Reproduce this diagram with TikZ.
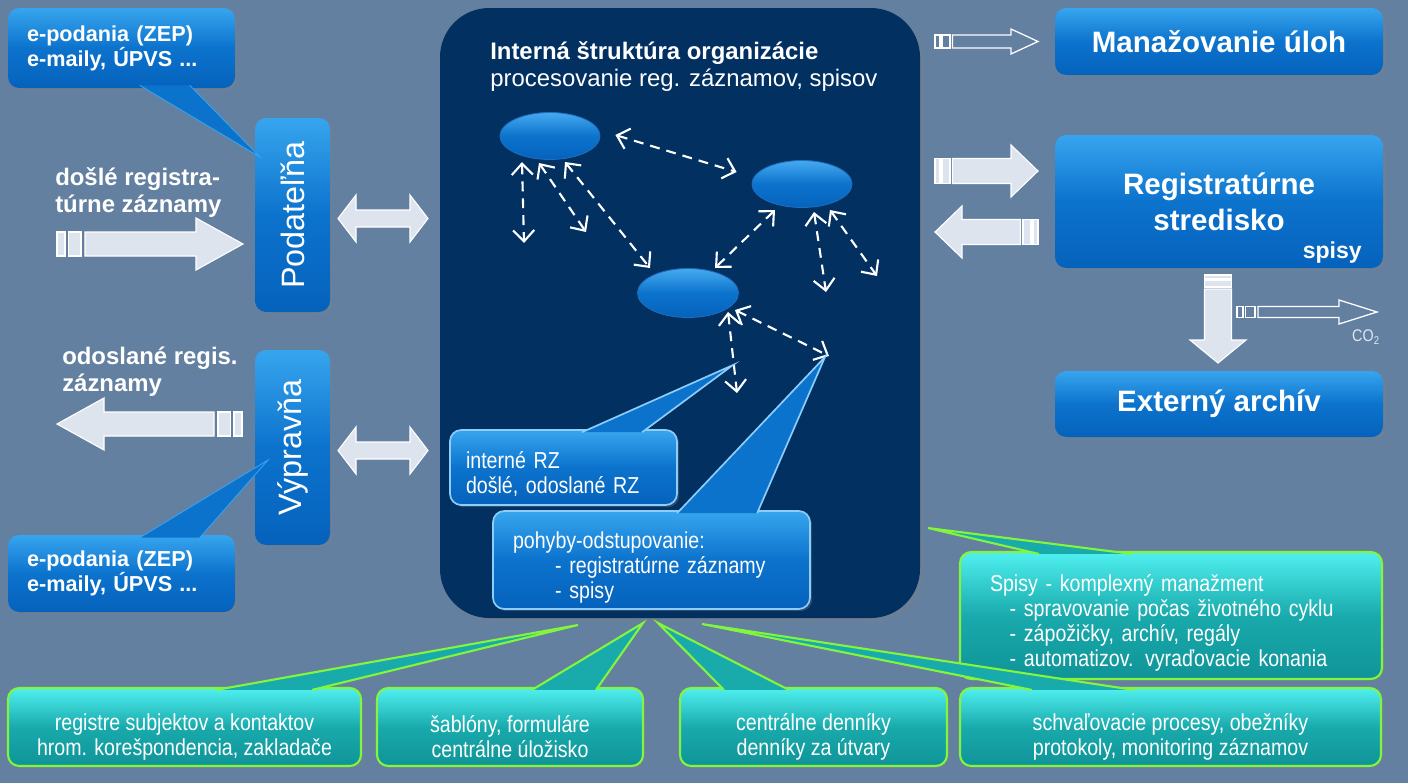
\documentclass[tikz,border=0pt]{standalone}
\usepackage{fontspec}
\setmainfont{Liberation Sans}
\newfontfamily\narrowsf[FakeStretch=0.85]{Liberation Sans}
\usepackage{graphicx}
\usetikzlibrary{positioning}
\usetikzlibrary{calc}
\usetikzlibrary{arrows.meta}
\usetikzlibrary{shadows}
\usetikzlibrary{shapes.geometric}

\definecolor{bgcol}{RGB}{99,128,161}
\definecolor{panelcol}{RGB}{2,48,97}
\definecolor{bluetop}{RGB}{55,165,238}
\definecolor{bluemid}{RGB}{12,115,205}
\definecolor{bluebot}{RGB}{5,98,188}
\definecolor{lightedge}{RGB}{140,205,250}
\definecolor{ovaltop}{RGB}{70,170,240}
\definecolor{ovaledge}{RGB}{30,110,190}
\definecolor{tealtop}{RGB}{80,240,240}
\definecolor{tealmid}{RGB}{25,170,172}
\definecolor{tealbot}{RGB}{15,148,152}
\definecolor{greenedge}{RGB}{130,245,60}
\definecolor{arrowfill}{RGB}{221,228,238}
\definecolor{co2col}{RGB}{225,230,240}

\newcommand{\pxu}{0.025cm}

\tikzset{
  pics/fatarr/.style n args={5}{code={
    \filldraw[arrbody] ({3.5*#5},-#3) -- ({#1-#2},-#3) -- ({#1-#2},-#4) -- (#1,0)
      -- ({#1-#2},#4) -- ({#1-#2},#3) -- ({3.5*#5},#3) -- cycle;
    \filldraw[arrbody] (0,-#3) rectangle (#5,#3);
    \filldraw[arrbody] ({1.4*#5},-#3) rectangle ({3*#5},#3);
  }},
  pics/dblarr/.style n args={4}{code={
    \filldraw[arrbody] (0,0) -- (#2,-#4) -- (#2,-#3) -- ({#1-#2},-#3) -- ({#1-#2},-#4) -- (#1,0)
      -- ({#1-#2},#4) -- ({#1-#2},#3) -- (#2,#3) -- (#2,#4) -- cycle;
  }}
}

\begin{document}
\begin{tikzpicture}[x=0.025cm, y=-0.025cm,
    panel/.style={rectangle, rounded corners=35pt, fill=panelcol, drop shadow={opacity=0.3}},
    bluebox/.style={rectangle, rounded corners=8pt, top color=bluetop, bottom color=bluebot, middle color=bluemid, text=white, inner sep=0pt, drop shadow={opacity=0.35, shadow xshift=1.5pt, shadow yshift=-1.5pt}},
    callin/.style={bluebox, draw=lightedge, line width=1.2pt, align=left, font={\narrowsf\fontsize{16.4}{17.8}\selectfont}},
    tealbox/.style={rectangle, rounded corners=8pt, top color=tealtop, bottom color=tealbot, middle color=tealmid, draw=greenedge, line width=1.5pt, text=white, inner sep=0pt, font={\narrowsf\fontsize{16.4}{17.8}\selectfont}, drop shadow={opacity=0.35, shadow xshift=1.5pt, shadow yshift=-1.5pt}},
    unitnode/.style={ellipse, top color=ovaltop, bottom color=bluebot, middle color=bluemid, draw=ovaledge, line width=0.6pt, minimum width=100*\pxu, minimum height=47*\pxu, inner sep=0pt},
    outtail/.style={fill=bluemid, draw=bluetop, line width=0.6pt},
    intail/.style={fill=bluemid, draw=lightedge, line width=1.2pt},
    tealtail/.style={fill=tealmid, draw=greenedge, line width=1.5pt},
    dasharr/.style={white, line width=1.5pt, dash pattern=on 7pt off 5pt, {Straight Barb[length=8pt,width=15pt]}-{Straight Barb[length=8pt,width=15pt]}},
    arrbody/.style={fill=arrowfill, draw=white, line width=0.8pt},
    lbl/.style={text=white, inner sep=0pt, align=left, font={\bfseries\fontsize{17}{19.2}\selectfont}},
  ]
  \path[use as bounding box, fill=bgcol] (0,0) rectangle (1408,783);

  %Left side
  \node[bluebox, minimum width=75*\pxu, minimum height=194*\pxu, font=\fontsize{23}{27}\selectfont] (podat) at (292.5,215) {\rotatebox{90}{Podateľňa}};
  \node[bluebox, minimum width=75*\pxu, minimum height=195*\pxu, font=\fontsize{23}{27}\selectfont] (vyprav) at (292.5,447.5) {\rotatebox{90}{Výpravňa}};

  \node[bluebox, text width=189*\pxu, inner xsep=19*\pxu, minimum height=80*\pxu, align=left, font=\bfseries\fontsize{15.4}{17.8}\selectfont] (cbtop) at (121.5,48) {e-podania (ZEP)\\e-maily, ÚPVS ...};
  \node[bluebox, text width=189*\pxu, inner xsep=19*\pxu, minimum height=77*\pxu, align=left, font=\bfseries\fontsize{15.4}{17.8}\selectfont] (cbbot) at (121.5,573.5) {e-podania (ZEP)\\e-maily, ÚPVS ...};
  \coordinate (tiptop) at (260,157);
  \coordinate (tipbot) at (268,460);
  \filldraw[outtail] ($(cbtop.south west)+(132,-3)$) -- (tiptop) -- ($(cbtop.south west)+(182,-3)$);
  \filldraw[outtail] ($(cbbot.north west)+(132,3)$) -- (tipbot) -- ($(cbbot.north west)+(192,3)$);

  \node[lbl, anchor=north west] (inlbl) at (55,167) {došlé registra-\\túrne záznamy};
  \node[lbl, anchor=north west] (outlbl) at (62,347) {odoslané regis.\\záznamy};
  \pic at (57,244) {fatarr={186}{47}{12}{26}{8}};
  \pic[rotate=180] at (242,424) {fatarr={185}{47}{12}{26}{8}};
  \pic at (338,218.5) {dblarr={90}{18}{8.5}{23.5}};
  \pic at (338,450.5) {dblarr={90}{18}{8.5}{23.5}};

  %Center
  \node[panel, minimum width=480*\pxu, minimum height=610*\pxu] (panel) at (680,313) {};
  \node[text=white, inner sep=0pt, anchor=north west, align=left, font=\fontsize{17}{19.2}\selectfont] (title) at (490,41) {\textbf{Interná štruktúra organizácie}\\procesovanie reg. záznamov, spisov};

  \node[unitnode] (org1) at (550,136) {};
  \node[unitnode] (org2) at (802,184) {};
  \node[unitnode, minimum width=101*\pxu, minimum height=49*\pxu] (org3) at (688,293) {};

  \coordinate (e1a) at (524,243);
  \coordinate (e1b) at (586,232);
  \coordinate (e2a) at (826,292);
  \coordinate (e2b) at (877,276);
  \coordinate (e3a) at (737,393);
  \coordinate (e3b) at (829,356);
  \draw[dasharr] ($(org1.east)+(15,-1)$) -- ($(org2.west)+(-15,-12)$);
  \draw[dasharr] ($(org1)+(-28,26)$) -- (e1a);
  \draw[dasharr] ($(org1)+(-11,27)$) -- (e1b);
  \draw[dasharr] ($(org1)+(15,26)$) -- ($(org3)+(-38,-25)$);
  \draw[dasharr] ($(org2)+(-27,26)$) -- ($(org3)+(27,-25)$);
  \draw[dasharr] ($(org2)+(12,28)$) -- (e2a);
  \draw[dasharr] ($(org2)+(28,26)$) -- (e2b);
  \draw[dasharr] ($(org3)+(40,19)$) -- (e3a);
  \draw[dasharr] ($(org3)+(47,17)$) -- (e3b);

  \node[callin, text width=195*\pxu, inner xsep=16*\pxu, minimum height=75*\pxu] (intrz) at (563.5,467.5) {\rule{0pt}{21pt}interné RZ\\došlé, odoslané RZ};
  \node[callin, text width=277*\pxu, inner xsep=20*\pxu, minimum height=98*\pxu] (pohyb) at (651.5,560) {\rule{0pt}{22pt}pohyby-odstupovanie:\\\hspace*{30pt}- registratúrne záznamy\\\hspace*{30pt}- spisy};
  \coordinate (tipint) at (733,365);
  \coordinate (tippoh) at (825,357);
  \filldraw[intail] ($(intrz.north west)+(133,3)$) -- (tipint) -- ($(intrz.north west)+(193,3)$);
  \filldraw[intail] ($(pohyb.north west)+(185,3)$) -- (tippoh) -- ($(pohyb.north west)+(265,3)$);

  %Right side
  \node[bluebox, minimum width=328*\pxu, minimum height=67*\pxu, font=\bfseries\fontsize{21}{25.6}\selectfont] (manaz) at (1219,41.5) {Manažovanie úloh};
  \node[bluebox, minimum width=328*\pxu, minimum height=133*\pxu, align=center, font=\bfseries\fontsize{21}{25.6}\selectfont] (regst) at (1219,201.5) {Registratúrne\\stredisko};
  \node[anchor=base east, text=white, inner sep=0pt, font=\bfseries\fontsize{16.4}{18}\selectfont] (spisytag) at (1362,258) {spisy};
  \node[bluebox, minimum width=328*\pxu, minimum height=66*\pxu, font=\bfseries\fontsize{21}{25.6}\selectfont] (extarch) at (1219,404) {Externý archív};

  \pic[arrbody/.style={draw=white, fill=none, line width=0.9pt}] at (935,41.5) {fatarr={103}{27}{6.5}{12.5}{5}};
  \pic at (935,171) {fatarr={103}{27}{12.5}{26}{5}};
  \pic[rotate=180] at (1038,232) {fatarr={103}{27}{12.5}{26}{5}};
  \pic[rotate=-90] at (1218,275) {fatarr={88}{23}{13.5}{28}{4}};
  \pic[arrbody/.style={draw=white, fill=none, line width=0.9pt}] at (1237,312) {fatarr={140}{38}{5.5}{12}{6}};
  \node[text=co2col, inner sep=0pt, font=\narrowsf\fontsize{12}{14}\selectfont] (co2) at (1366,337) {CO\textsubscript{2}};

  %Bottom
  \node[tealbox, text width=362*\pxu, inner xsep=30*\pxu, minimum height=127*\pxu, align=left] (spisybox) at (1171,615.5) {\rule{0pt}{22pt}Spisy - komplexný manažment\\\hspace*{14pt}- spravovanie počas životného cyklu\\\hspace*{14pt}- zápožičky, archív, regály\\\hspace*{14pt}- automatizov. vyraďovacie konania};
  \node[tealbox, minimum width=353*\pxu, minimum height=78*\pxu, align=center] (bot1) at (184.5,727) {\rule{0pt}{26pt}registre subjektov a kontaktov\\hrom. korešpondencia, zakladače};
  \node[tealbox, minimum width=266*\pxu, minimum height=78*\pxu, align=center] (bot2) at (510,727) {\rule{0pt}{26pt}šablóny, formuláre\\centrálne úložisko};
  \node[tealbox, minimum width=267*\pxu, minimum height=78*\pxu, align=center] (bot3) at (813.5,727) {\rule{0pt}{26pt}centrálne denníky\\denníky za útvary};
  \node[tealbox, minimum width=421*\pxu, minimum height=78*\pxu, align=center] (bot4) at (1170.5,727) {\rule{0pt}{26pt}schvaľovacie procesy, obežníky\\protokoly, monitoring záznamov};

  \coordinate (tipsp) at (928,528);
  \coordinate (tipb1) at (578,625);
  \coordinate (tipb2) at (643,623);
  \coordinate (tipb3) at (658,623);
  \coordinate (tipb4) at (702,624);
  \filldraw[tealtail] ($(spisybox.north west)+(80,3)$) -- (tipsp) -- ($(spisybox.north west)+(173,3)$);
  \filldraw[tealtail] ($(bot1.north west)+(209,3)$) -- (tipb1) -- ($(bot1.north west)+(305,3)$);
  \filldraw[tealtail] ($(bot2.north west)+(156,3)$) -- (tipb2) -- ($(bot2.north west)+(220,3)$);
  \filldraw[tealtail] ($(bot3.north west)+(45,3)$) -- (tipb3) -- ($(bot3.north west)+(110,3)$);
  \filldraw[tealtail] ($(bot4.north west)+(73,3)$) -- (tipb4) -- ($(bot4.north west)+(175,3)$);
\end{tikzpicture}
\end{document}
